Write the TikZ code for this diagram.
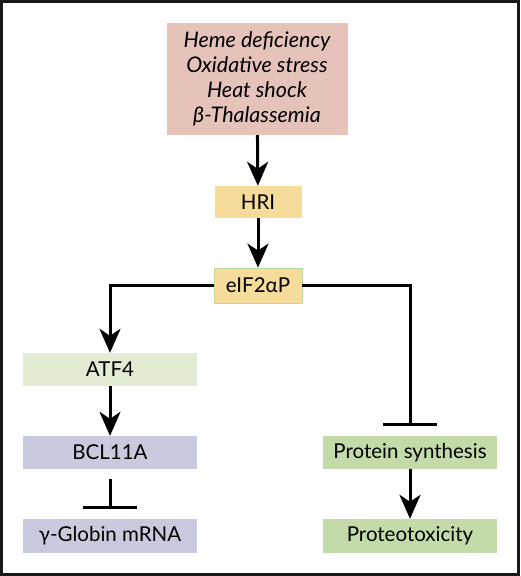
\documentclass[tikz,border=0pt]{standalone}
\usepackage{fontspec}
\setmainfont{Lato}
\usetikzlibrary{arrows.meta}
\definecolor{cpink}{HTML}{E6C3BA}
\definecolor{cyel}{HTML}{F5DC9B}
\definecolor{cyelb}{HTML}{B9DBA0}
\definecolor{clgreen}{HTML}{E2EBD3}
\definecolor{clav}{HTML}{C9CADD}
\definecolor{cgreen}{HTML}{C3DBA8}
\begin{document}
\begin{tikzpicture}[x=1pt,y=-1pt,
  box/.style={rectangle, inner sep=0pt, minimum width=174pt, minimum height=33pt, font=\fontsize{20.5}{24}\selectfont, text=black},
  arr/.style={line width=3pt, -{Stealth[length=24pt, width=21pt, inset=7pt]}},
  inh/.style={line width=3pt, -{Bar[width=54pt]}}]
\useasboundingbox (0,0) rectangle (520,576);
\draw[line width=3pt, draw=black!90] (1.5,1.5) rectangle (518.5,574.5);
\node[box, fill=cpink, minimum width=181pt, minimum height=112pt, align=center,
  font=\fontsize{21.5}{25}\itshape\selectfont] (top) at (257,79)
  {Heme deficiency\\Oxidative stress\\Heat shock\\β-Thalassemia};
\node[box, fill=cyel, minimum width=87pt, minimum height=32pt] (hri) at (258,202) {HRI};
\node[box, fill=cyel, draw=cyelb, line width=0.8pt, minimum width=88pt, minimum height=35pt] (eif) at (258,285.5) {eIF2αP};
\node[box, fill=clgreen] (atf) at (110,369.5) {ATF4};
\node[box, fill=clav] (bcl) at (110,452.5) {BCL11A};
\node[box, fill=clav, minimum height=34pt] (gam) at (110,536) {γ-Globin mRNA};
\node[box, fill=cgreen] (prot) at (410,452.5) {Protein synthesis};
\node[box, fill=cgreen, minimum height=34pt] (proteo) at (410,536) {Proteotoxicity};
\draw[arr] (top) -- (hri);
\draw[arr] (hri) -- (eif);
\draw[arr] (eif.west) -| (atf.north);
\draw[inh, shorten >=10pt] (eif.east) -| (prot.north);
\draw[arr] (atf) -- (bcl);
\draw[inh, shorten >=10pt, shorten <=10pt] (bcl) -- (gam);
\draw[arr] (prot) -- (proteo);
\end{tikzpicture}
\end{document}
